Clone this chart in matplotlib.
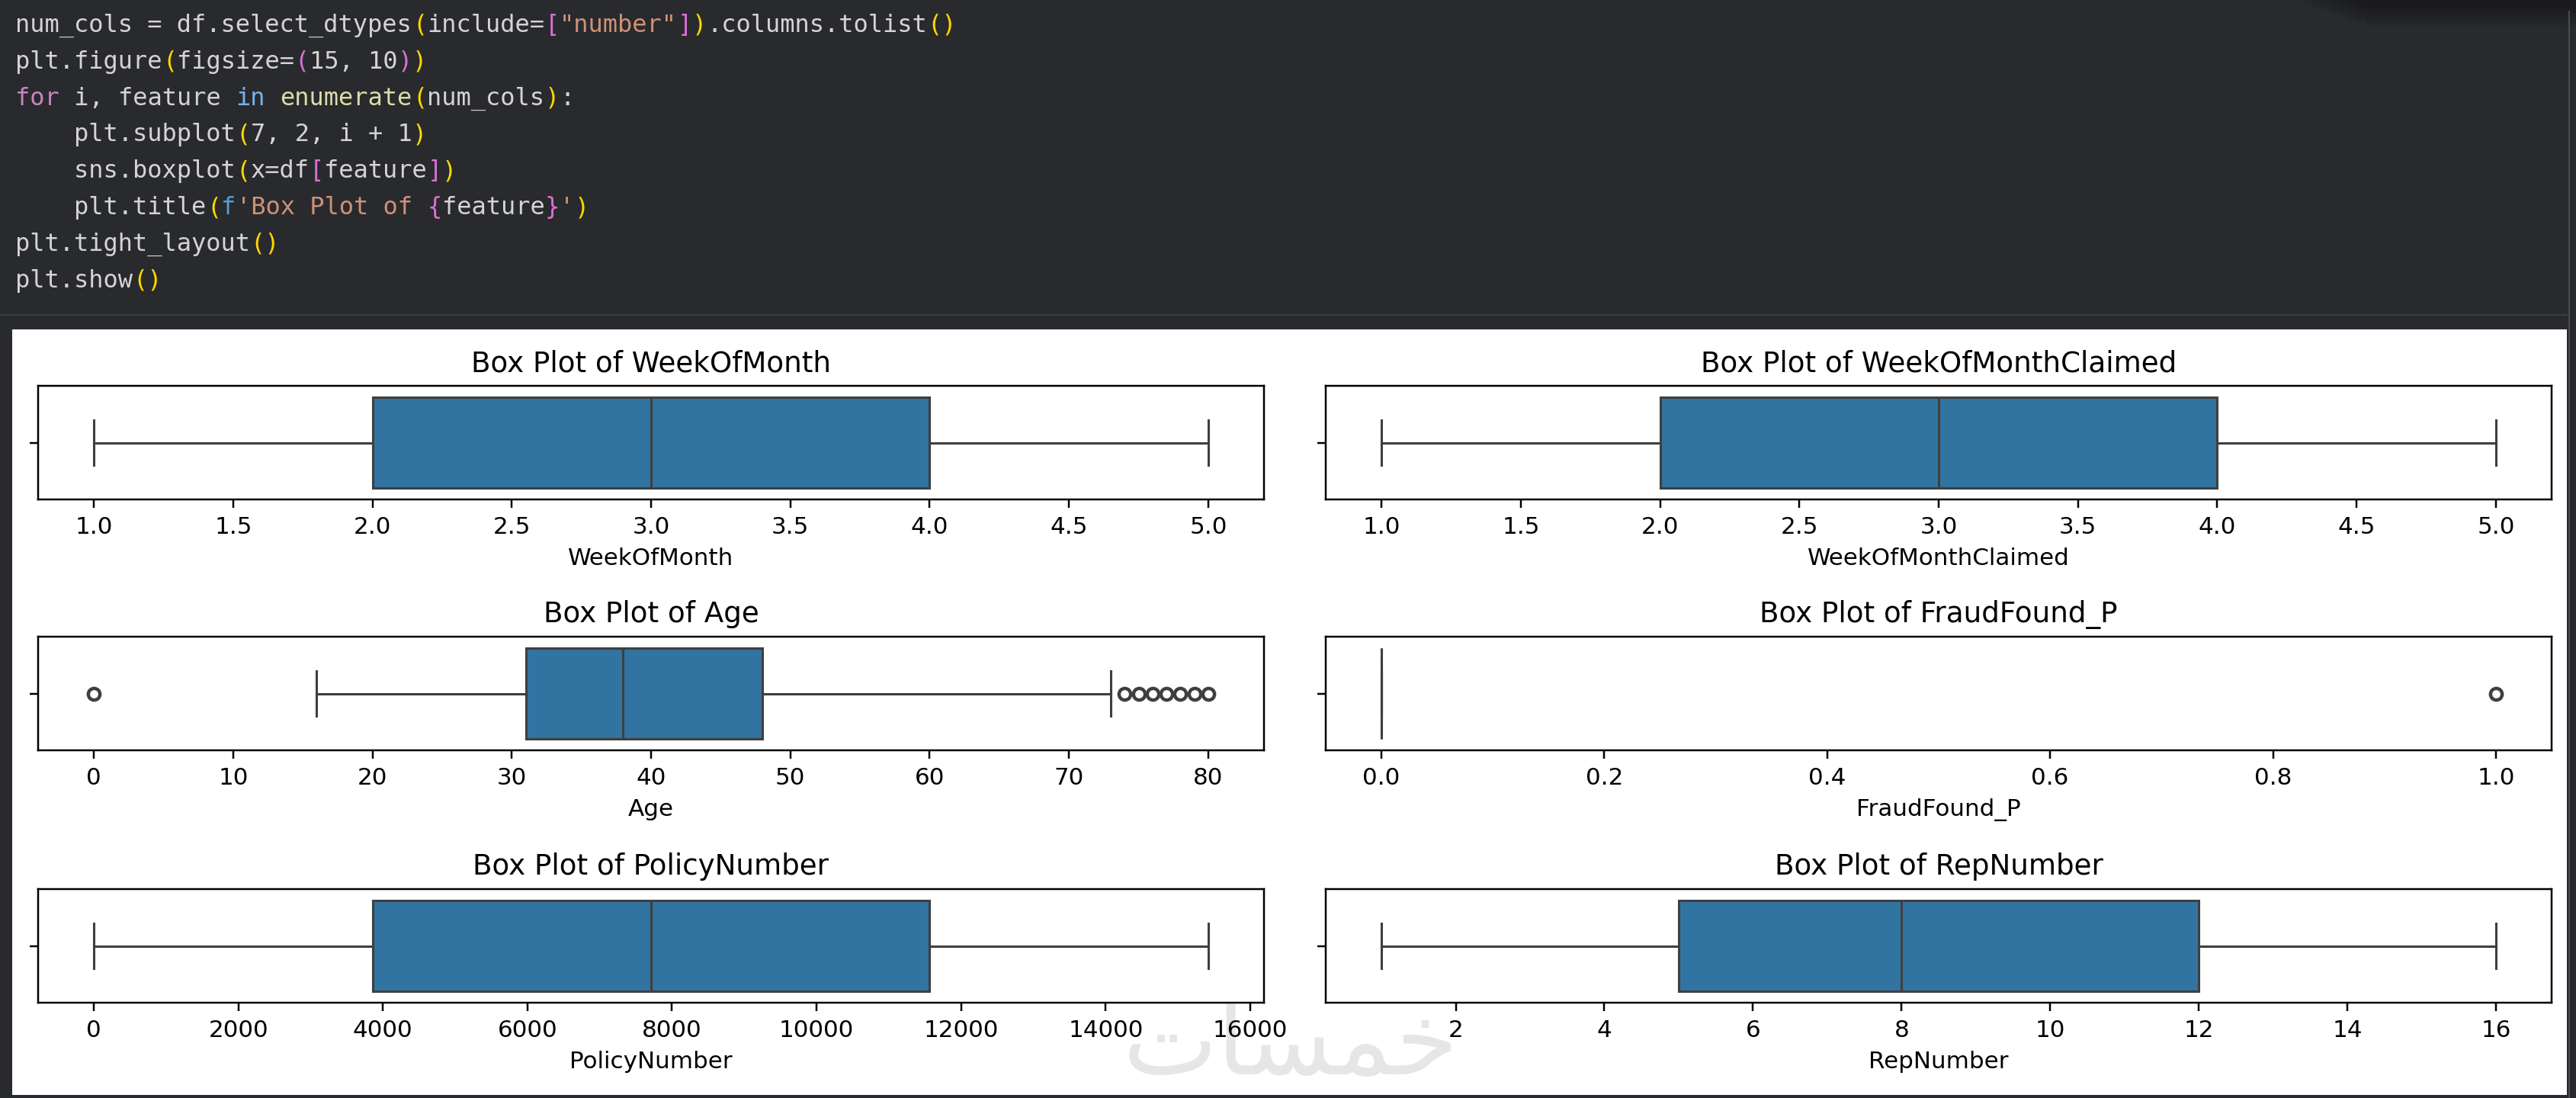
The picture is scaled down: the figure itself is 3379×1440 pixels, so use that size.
import matplotlib
matplotlib.use("Agg")
import matplotlib.pyplot as plt
from matplotlib.patches import Rectangle
from matplotlib.transforms import IdentityTransform

W, H = 3380, 1440
S = 2.233  # the notebook picture is the 15x10 figure blown up by this much

# box plot numbers
features = ["WeekOfMonth", "WeekOfMonthClaimed", "Age",
            "FraudFound_P", "PolicyNumber", "RepNumber"]
whis_lo = [1, 1, 16, 0, 1, 1]
q1 = [2, 2, 31, 0, 3855.75, 5]
median = [3, 3, 38, 0, 7710.5, 8]
q3 = [4, 4, 48, 0, 11565.25, 12]
whis_hi = [5, 5, 73, 0, 15420, 16]
fliers = [[], [], [0, 74, 75, 76, 77, 78, 79, 80], [1], [], []]
xticks = [
    [1.0, 1.5, 2.0, 2.5, 3.0, 3.5, 4.0, 4.5, 5.0],
    [1.0, 1.5, 2.0, 2.5, 3.0, 3.5, 4.0, 4.5, 5.0],
    [0, 10, 20, 30, 40, 50, 60, 70, 80],
    [0.0, 0.2, 0.4, 0.6, 0.8, 1.0],
    [0, 2000, 4000, 6000, 8000, 10000, 12000, 14000, 16000],
    [2, 4, 6, 8, 10, 12, 14, 16],
]

# code cell colours
BG = "#292a2d"
TXT = "#d4d4d4"
KW = "#c586c0"
IN = "#75b3e8"
FN = "#dcdcaa"
STR = "#ce9178"
FPRE = "#569cd6"
B1 = "#ffd700"
B2 = "#da70d6"

code_lines = [
    [("num_cols = df.select_dtypes", TXT), ("(", B1), ("include=", TXT), ("[", B2),
     ('"number"', STR), ("]", B2), (")", B1), (".columns.tolist", TXT), ("()", B1)],
    [("plt.figure", TXT), ("(", B1), ("figsize=", TXT), ("(", B2), ("15, 10", TXT),
     (")", B2), (")", B1)],
    [("for", KW), (" i, feature ", TXT), ("in", IN), (" ", TXT), ("enumerate", FN),
     ("(", B1), ("num_cols", TXT), (")", B1), (":", TXT)],
    [("    plt.subplot", TXT), ("(", B1), ("7, 2, i + 1", TXT), (")", B1)],
    [("    sns.boxplot", TXT), ("(", B1), ("x=df", TXT), ("[", B2), ("feature", TXT),
     ("]", B2), (")", B1)],
    [("    plt.title", TXT), ("(", B1), ("f", FPRE), ("'Box Plot of ", STR), ("{", B2),
     ("feature", TXT), ("}", B2), ("'", STR), (")", B1)],
    [("plt.tight_layout", TXT), ("()", B1)],
    [("plt.show", TXT), ("()", B1)],
]

fig = plt.figure(figsize=(W / 100, H / 100), dpi=100, facecolor=BG)
px = IdentityTransform()

# code text, monospace, placed char by char column
CW = 19.3
for k, toks in enumerate(code_lines):
    col = 0
    yb = H - (42 + 47.8 * k)
    for s, c in toks:
        fig.text(20 + col * CW, yb, s, color=c, family="DejaVu Sans Mono",
                 fontsize=23, va="baseline", ha="left", transform=px)
        col += len(s)

# little shadow top right, separator and scrollbar edge
for i in range(8):
    fig.add_artist(Rectangle((3020 + i * 12, H - 6 - i * 4), 380, 6 + i * 4,
                             color="#151516", alpha=0.12, transform=px, lw=0))
fig.add_artist(Rectangle((0, H - 414), 3368, 2, color="#3b3c3f", transform=px, lw=0))
fig.add_artist(Rectangle((3369, 0), 2, H - 14, color="#4a4b4e", transform=px, lw=0))

# white output area
fig.add_artist(Rectangle((16, H - 1436), 3367 - 16, 1436 - 432, color="white",
                         transform=px, lw=0, zorder=-3))

# watermark
fig.text(1693, H - 1372, "\uFE95\uFE8E\uFEB4\uFEE4\uFEA7", color="#e6e6e6",
         fontsize=95, family="DejaVu Sans", ha="center", va="center",
         transform=px, zorder=-2)

col_x = [50, 1739]
col_w = 1608
row_top = [506, 835, 1166]
row_h = 149

fill = "#3274a1"
lc = "#3f3f3f"
lw = 2.2

for i, feat in enumerate(features):
    r, c = divmod(i, 2)
    ax = fig.add_axes([col_x[c] / W, 1 - (row_top[r] + row_h) / H, col_w / W, row_h / H])
    stats = [dict(med=median[i], q1=q1[i], q3=q3[i], whislo=whis_lo[i],
                  whishi=whis_hi[i], fliers=fliers[i])]
    ax.bxp(stats, positions=[0], widths=0.8, orientation="horizontal",
           patch_artist=True,
           boxprops=dict(facecolor=fill, edgecolor=lc, linewidth=lw),
           whiskerprops=dict(color=lc, linewidth=lw),
           capprops=dict(color=lc, linewidth=lw),
           medianprops=dict(color=lc, linewidth=lw),
           flierprops=dict(marker="o", markerfacecolor="none", markeredgecolor=lc,
                           markersize=11, markeredgewidth=3.2))
    ax.set_ylim(0.5, -0.5)
    ax.set_yticks([0])
    ax.set_yticklabels([""])
    ax.set_xticks(xticks[i])
    ax.set_title(f"Box Plot of {feat}", fontsize=12 * S, pad=6 * S)
    ax.set_xlabel(feat, fontsize=10 * S, labelpad=4 * S)
    ax.tick_params(labelsize=10 * S, length=3.5 * S, width=0.8 * S, pad=3.5 * S)
    for sp in ax.spines.values():
        sp.set_linewidth(0.8 * S)

fig.savefig("out.png", dpi=100, facecolor=BG)
